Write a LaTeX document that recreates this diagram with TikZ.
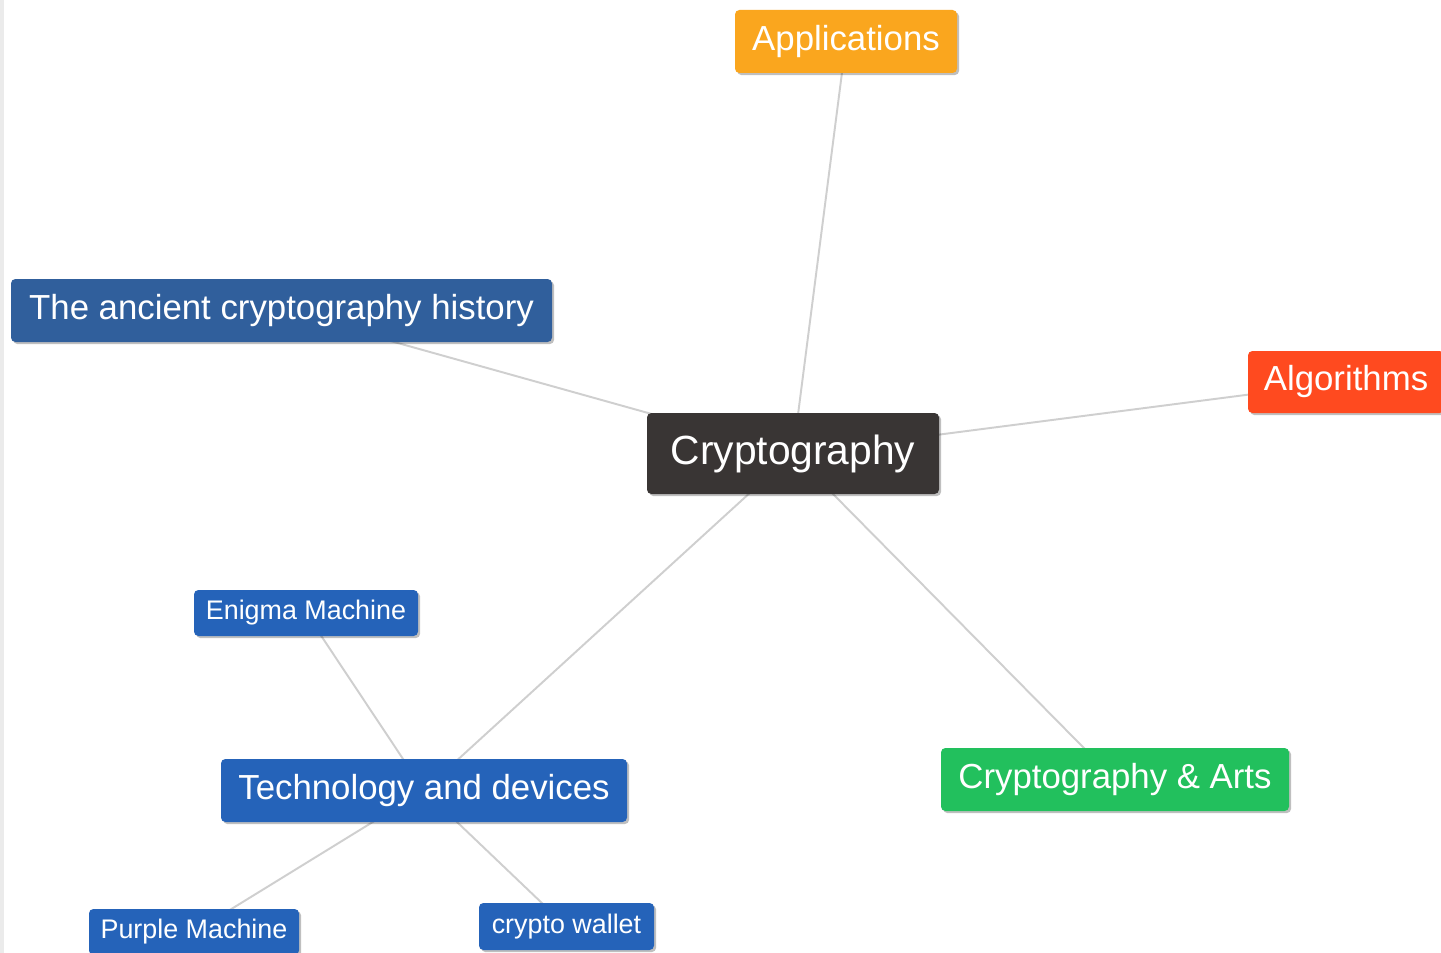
\documentclass[tikz,border=0pt]{standalone}
\usepackage{fontspec}
\setmainfont{Liberation Sans}
\usetikzlibrary{shadows, backgrounds}

\definecolor{appsorange}{HTML}{FAA61E}
\definecolor{histblue}{HTML}{305F9C}
\definecolor{algored}{HTML}{FF4A1F}
\definecolor{rootgray}{HTML}{393534}
\definecolor{techblue}{HTML}{2563B9}
\definecolor{artsgreen}{HTML}{22C05D}
\definecolor{linkgray}{HTML}{CFCFCF}
\definecolor{edgestrip}{HTML}{EBEBEB}

\begin{document}
\begin{tikzpicture}[
    x = 0.02cm, y = -0.02cm,               % one unit = one pixel of the sketch
    topic/.style   = {rectangle, rounded corners=2.5pt, text=white, inner sep=0pt,
                      drop shadow={shadow xshift=1.2pt, shadow yshift=-1.2pt,
                                   opacity=0.25, fill=black}},
    boxsize/.style 2 args = {minimum width=#1*0.02cm, minimum height=#2*0.02cm},
    bigfont/.style   = {font=\fontsize{23.2}{26}\selectfont},
    midfont/.style   = {font=\fontsize{19.8}{23}\selectfont},
    smallfont/.style = {font=\fontsize{15.3}{18}\selectfont},
    link/.style    = {draw=linkgray, line width=1.1pt}
  ]
  \useasboundingbox (0,0) rectangle (1441,953);

  % main topic
  \node[topic, bigfont, fill=rootgray, boxsize={292}{81}] (crypto) at (793,453.5) {Cryptography};

  % first level
  \node[topic, midfont, fill=appsorange, boxsize={222}{63}] (apps) at (846,41.5) {Applications};
  \node[topic, midfont, fill=histblue, boxsize={541}{63}] (history) at (281.5,310.5) {The ancient cryptography history};
  \node[topic, midfont, fill=algored, boxsize={196}{62}] (algo) at (1346,382) {Algorithms};
  \node[topic, midfont, fill=techblue, boxsize={406}{63}] (tech) at (424,790.5) {Technology and devices};
  \node[topic, midfont, fill=artsgreen, boxsize={348}{63}] (arts) at (1115,779.5) {Cryptography \& Arts};

  % second level
  \node[topic, smallfont, fill=techblue, boxsize={224}{46}] (enigma) at (306,613) {Enigma Machine};
  \node[topic, smallfont, fill=techblue, boxsize={210}{46}] (purple) at (194,932) {Purple Machine};
  \node[topic, smallfont, fill=techblue, boxsize={175}{47}] (wallet) at (566.5,926.5) {crypto wallet};

  % links behind the boxes
  \begin{scope}[on background layer]
    \fill[white] (0,0) rectangle (1441,953);
    \fill[edgestrip] (0,0) rectangle (4,953);
    \foreach \n in {apps, history, algo, tech, arts}
      \draw[link] (crypto.center) -- (\n.center);
    \foreach \n in {enigma, purple, wallet}
      \draw[link] (tech.center) -- (\n.center);
  \end{scope}

\end{tikzpicture}
\end{document}
